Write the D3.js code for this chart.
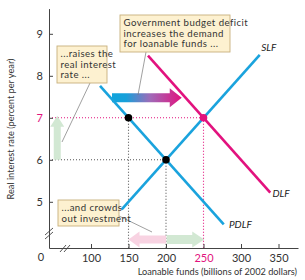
<!DOCTYPE html>
<html>
<head>
<meta charset="utf-8">
<script src="https://cdn.jsdelivr.net/npm/d3@7"></script>
<style>
  body { margin: 0; background: #fff; }
  svg { display: block; font-family: Lato, "Open Sans", sans-serif; }
</style>
</head>
<body>
<div id="chart"></div>
<script>
// data
const xTicks = [100, 150, 200, 250, 300, 350];
const yTicks = [5, 6, 7, 8, 9];
const slf = [[141, 4.82], [325, 8.5]];
const pdlf = [[112, 7.76], [277, 4.46]];
const dlf = [[176, 8.48], [339, 5.22]];
const points = [
  { x: 150, y: 7, c: "#000" },
  { x: 200, y: 6, c: "#000" },
  { x: 250, y: 7, c: "#e2127e" }
];

const W = 305, H = 280;
const cyan = "#1aa3dd", magenta = "#e2127e";

const x = d3.scaleLinear().domain([44, 376]).range([49, 298]);
const y = d3.scaleLinear().domain([3.9, 9.6]).range([248, 8.6]);

const svg = d3.select("#chart").append("svg")
  .attr("width", W).attr("height", H);

const defs = svg.append("defs");
const grad = defs.append("linearGradient").attr("id", "grad")
  .attr("x1", "0%").attr("x2", "100%");
grad.append("stop").attr("offset", "0%").attr("stop-color", "#10a4dc");
grad.append("stop").attr("offset", "20%").attr("stop-color", "#17a0da");
grad.append("stop").attr("offset", "55%").attr("stop-color", "#a06ab8");
grad.append("stop").attr("offset", "100%").attr("stop-color", "#e2127e");

// dotted guides
const dots = svg.append("g").attr("fill", "none").attr("stroke-width", 1.1);
dots.append("line").attr("x1", x(150)).attr("x2", x(150)).attr("y1", y(7)).attr("y2", y(3.9))
  .attr("stroke", "#555").attr("stroke-dasharray", "1,2");
dots.append("line").attr("x1", x(44)).attr("x2", x(200)).attr("y1", y(6)).attr("y2", y(6))
  .attr("stroke", "#555").attr("stroke-dasharray", "1,2");
dots.append("line").attr("x1", x(200)).attr("x2", x(200)).attr("y1", y(6)).attr("y2", y(3.9))
  .attr("stroke", "#555").attr("stroke-dasharray", "1,2");
dots.append("line").attr("x1", x(44)).attr("x2", x(250)).attr("y1", y(7)).attr("y2", y(7))
  .attr("stroke", magenta).attr("stroke-dasharray", "1,2");
dots.append("line").attr("x1", x(250)).attr("x2", x(250)).attr("y1", y(7)).attr("y2", y(3.9))
  .attr("stroke", magenta).attr("stroke-dasharray", "1,2");

// block arrows, given in data units
function arrowPath(x0, x1, yc, bodyH, headH, headL) {
  const dir = x1 > x0 ? 1 : -1;
  const hb = x(x1) - dir * headL;
  return `M${x(x0)},${yc - bodyH / 2}L${hb},${yc - bodyH / 2}L${hb},${yc - headH / 2}` +
    `L${x(x1)},${yc}L${hb},${yc + headH / 2}L${hb},${yc + bodyH / 2}L${x(x0)},${yc + bodyH / 2}Z`;
}
svg.append("path").attr("d", arrowPath(200, 150, y(4.1), 8, 16, 11)).attr("fill", "#f8d3e2");
svg.append("path").attr("d", arrowPath(201, 251, y(4.1), 9, 16, 12)).attr("fill", "#d2e8d3");
svg.append("path").attr("d", arrowPath(128, 221, y(7.48), 9, 19, 12)).attr("fill", "url(#grad)");

// vertical green arrow
{
  const cx = x(55), y0 = y(6), y1 = y(7.05);
  svg.append("path")
    .attr("d", `M${cx - 3.5},${y0}L${cx - 3.5},${y1 + 11}L${cx - 7},${y1 + 11}L${cx},${y1}` +
      `L${cx + 7},${y1 + 11}L${cx + 3.5},${y1 + 11}L${cx + 3.5},${y0}Z`)
    .attr("fill", "#d2e8d3");
}

// curves
const line = d3.line().x(d => x(d[0])).y(d => y(d[1]));
svg.append("path").attr("d", line(pdlf)).attr("stroke", cyan).attr("stroke-width", 2.6).attr("fill", "none");
svg.append("path").attr("d", line(slf)).attr("stroke", cyan).attr("stroke-width", 2.6).attr("fill", "none");
svg.append("path").attr("d", line(dlf)).attr("stroke", magenta).attr("stroke-width", 2.6).attr("fill", "none");

svg.selectAll("circle.pt").data(points).join("circle")
  .attr("class", "pt")
  .attr("cx", d => x(d.x)).attr("cy", d => y(d.y)).attr("r", 3.8)
  .attr("fill", d => d.c);

const lab = svg.append("g").attr("font-size", 10).attr("font-style", "italic").attr("fill", "#222");
lab.append("text").attr("x", x(327)).attr("y", y(8.6)).text("SLF");
lab.append("text").attr("x", x(342)).attr("y", y(5.2)).attr("dy", "0.35em").text("DLF");
lab.append("text").attr("x", x(284)).attr("y", y(4.45)).attr("dy", "0.35em").text("PDLF");

// axes
const xAxis = svg.append("g").attr("transform", `translate(0,${y(3.9)})`)
  .call(d3.axisBottom(x).tickValues(xTicks).tickSizeInner(-4).tickSizeOuter(0).tickPadding(6));
xAxis.selectAll("text").attr("fill", d => d === 250 ? magenta : "#333");
const yAxis = svg.append("g").attr("transform", `translate(${x(44)},0)`)
  .call(d3.axisLeft(y).tickValues(yTicks).tickFormat(d3.format("d")).tickSizeInner(-4).tickSizeOuter(0).tickPadding(6));
yAxis.selectAll("text").attr("fill", d => d === 7 ? magenta : "#333");
svg.selectAll(".domain, .tick line").attr("stroke", "#444");
svg.selectAll(".tick text").attr("font-size", 11).attr("font-family", "Lato, sans-serif");

// axis breaks
const brk = svg.append("g").attr("stroke", "#444").attr("stroke-width", 0.9);
[0, 4].forEach(o => {
  brk.append("line").attr("x1", 45).attr("x2", 53).attr("y1", 235 + o).attr("y2", 228 + o);
  brk.append("line").attr("x1", 60 + o).attr("x2", 66 + o).attr("y1", 252).attr("y2", 245);
});
svg.append("text").attr("x", 41).attr("y", 261).attr("font-size", 11).attr("fill", "#333")
  .attr("text-anchor", "middle").text("0");

svg.append("text").attr("x", 297).attr("y", 275).attr("text-anchor", "end")
  .attr("font-size", 9.2).attr("fill", "#333").text("Loanable funds (billions of 2002 dollars)");
svg.append("text").attr("transform", "translate(14,129) rotate(-90)").attr("text-anchor", "middle")
  .attr("font-size", 9.2).attr("fill", "#333").text("Real interest rate (percent per year)");

// annotation boxes
const notes = [
  { x: 120, y: 15, w: 110, h: 37, lines: ["Government budget deficit", "increases the demand", "for loanable funds ..."], lead: [146, 52, 138, 95] },
  { x: 57, y: 46, w: 50, h: 37, lines: ["...raises the", "real interest", "rate ..."], lead: [90, 83, 62, 142] },
  { x: 58, y: 200, w: 61, h: 26, lines: ["...and crowds", "out investment"], lead: [119, 216, 152, 232] }
];
const ng = svg.selectAll("g.note").data(notes).join("g").attr("class", "note");
ng.append("line")
  .attr("x1", d => d.lead[0]).attr("y1", d => d.lead[1])
  .attr("x2", d => d.lead[2]).attr("y2", d => d.lead[3])
  .attr("stroke", "#777").attr("stroke-width", 0.7);
ng.append("rect")
  .attr("x", d => d.x).attr("y", d => d.y).attr("width", d => d.w).attr("height", d => d.h)
  .attr("fill", "#fdf1d0").attr("stroke", "#c7b07c").attr("stroke-width", 0.9);
ng.each(function(d) {
  d3.select(this).selectAll("text").data(d.lines).join("text")
    .attr("x", d.x + 3.5).attr("y", (t, i) => d.y + 11.2 + i * 10.3)
    .attr("font-size", 9.6).attr("letter-spacing", 0.45)
    .attr("fill", "#333").text(t => t);
});
</script>
</body>
</html>
